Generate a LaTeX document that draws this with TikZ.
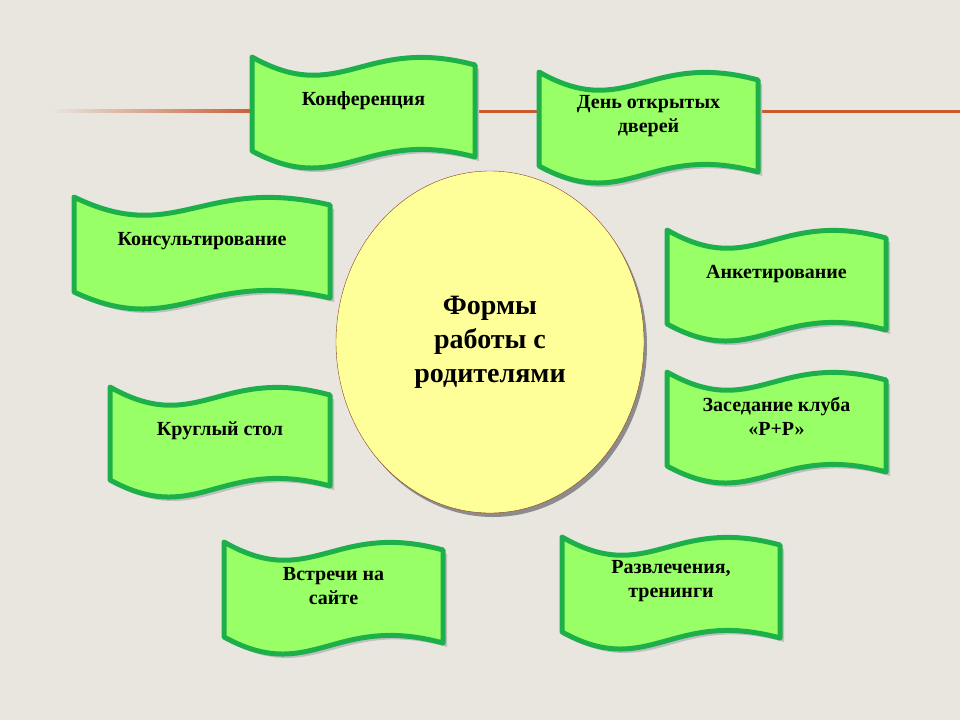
\documentclass[tikz,border=0pt]{standalone}
\usetikzlibrary{shapes.geometric}
\usepackage{fontspec}
\setmainfont{Liberation Serif}
\definecolor{bg}{HTML}{E9E6E0}
\definecolor{bfill}{HTML}{99FF66}
\definecolor{bdraw}{HTML}{1DB04A}
\definecolor{eyel}{HTML}{FFFF99}
\definecolor{oline}{HTML}{C85A30}
\begin{document}
\begin{tikzpicture}[x=1pt,y=-1pt,
  bannerpath/.style={draw=bdraw,fill=bfill,line width=5pt,line join=round},
  btext/.style={font=\bfseries\fontsize{20}{24}\selectfont,align=center,text=black}]
\fill[bg] (0,0) rectangle (960,720);
\useasboundingbox (0,0) rectangle (960,720);
\shade[left color=bg,right color=oline] (50,109.5) rectangle (260,112.5);
\draw[oline,line width=3pt] (260,111) -- (960,111);
\newcommand{\banner}[6]{%
  \pgfmathsetmacro{\w}{#3-#1}%
  \fill[black!25] ({#1+4},{#2+4}) .. controls ({#1+0.4*\w+4},{#2+50+4}) and ({#1+0.5*\w+4},{#2-22+4}) .. ({#3+4},{#2+8+4}) -- ({#3+4},{#4+4}) .. controls ({#1+0.5*\w+4},{#4-30+4}) and ({#1+0.4*\w+4},{#4+42+4}) .. ({#1+4},{#4-6+4}) -- cycle;
  \draw[bannerpath] (#1,#2) .. controls ({#1+0.4*\w},{#2+50}) and ({#1+0.5*\w},{#2-22}) .. (#3,{#2+8}) -- (#3,#4) .. controls ({#1+0.5*\w},{#4-30}) and ({#1+0.4*\w},{#4+42}) .. (#1,{#4-6}) -- cycle;
  \node[btext] (#5) at ({(#1+#3)/2},{(#2+#4)/2-6}) {#6};}
\banner{252}{57}{475}{157}{b1}{Конференция}
\banner{539}{72}{758}{172}{b2}{День открытых\\дверей}
\banner{74}{197}{330}{298}{b3}{Консультирование}
\banner{667}{230}{886}{330}{b4}{Анкетирование}
\banner{110}{387}{330}{486}{b5}{Круглый стол}
\banner{667}{372}{886}{472}{b6}{Заседание клуба\\«Р+Р»}
\banner{224}{542}{443}{643}{b7}{Встречи на\\сайте}
\banner{562}{537}{780}{638}{b8}{Развлечения,\\тренинги}
\fill[black!45] (493,346) ellipse [x radius=154, y radius=171];
\node[ellipse,draw=oline!70!black,fill=eyel,minimum width=308pt,minimum height=342pt,inner sep=0pt,
  font=\bfseries\fontsize{28}{34}\selectfont,align=center] (c) at (490,342) {Формы\\работы с\\родителями};
\end{tikzpicture}
\end{document}
